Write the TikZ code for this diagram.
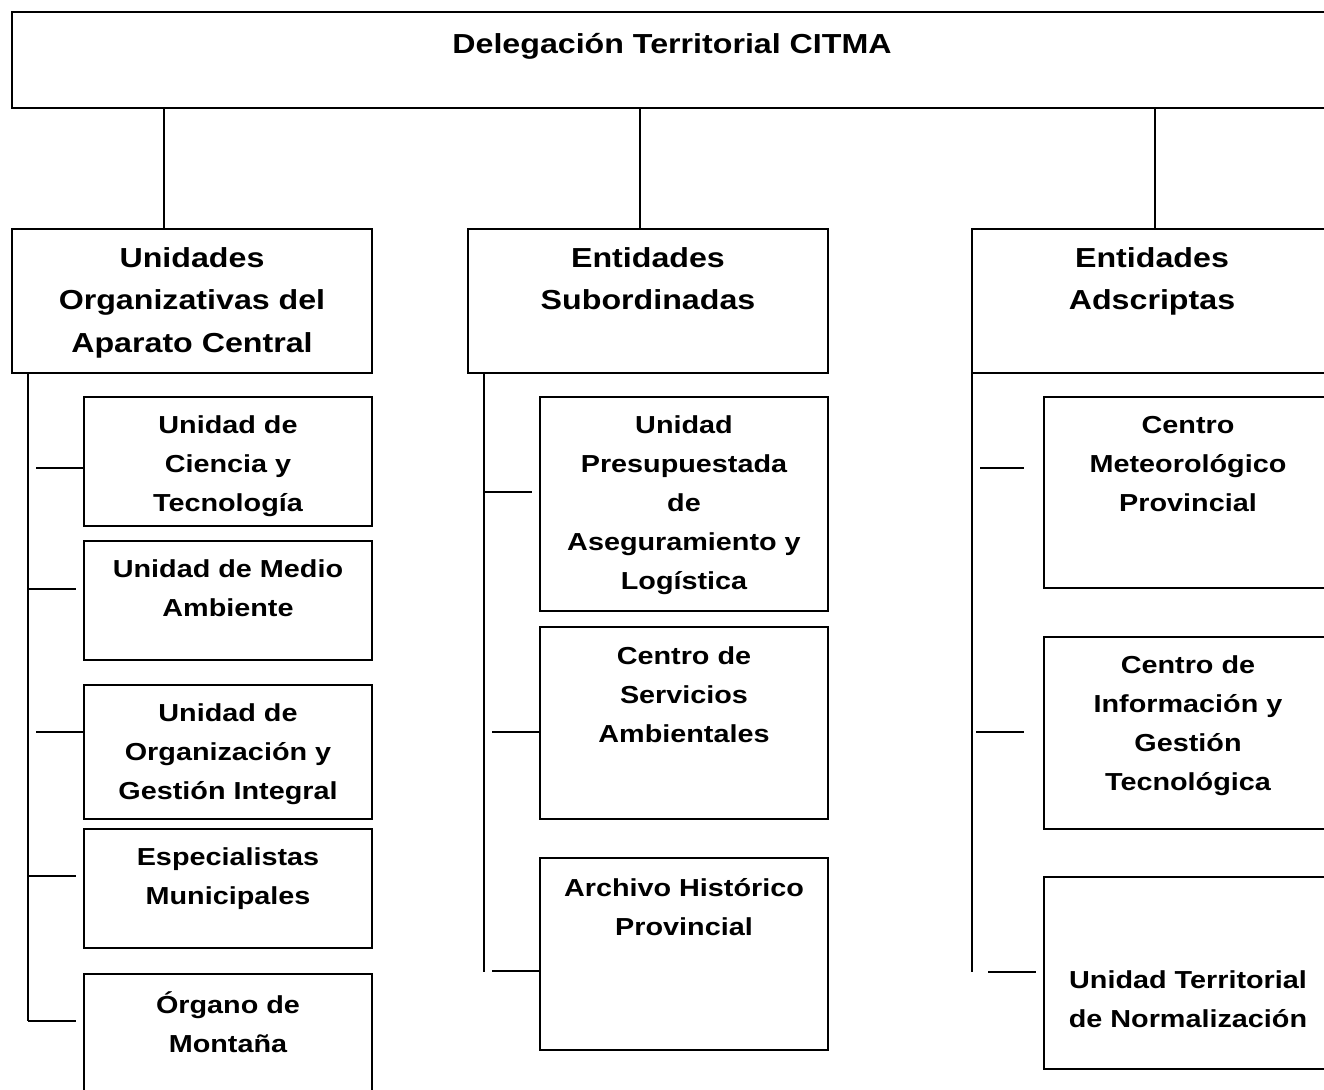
\documentclass[tikz,border=0pt]{standalone}
\usepackage{fontspec}
\setmainfont{Liberation Sans}[FakeStretch=1.17]
\usetikzlibrary{positioning}
\tikzset{
  box/.style={draw, line width=1.1pt, inner sep=0pt, outer sep=0pt, minimum width=144pt},
  lbl/.style={font=\fontsize{12.3}{19.5}\selectfont\bfseries, align=center,
    anchor=north, yshift=#1, inner sep=0pt, execute at begin node=\strut},
  lbl/.default=-9.35pt,
  head/.style={lbl=#1, font=\fontsize{13.75}{21.25}\selectfont\bfseries},
  head/.default=-9pt,
  conn/.style={line width=1pt}
}
\begin{document}
\begin{tikzpicture}[x=0.5pt,y=-0.5pt]
    \useasboundingbox (0,0) rectangle (1324,1090);
    \clip (0,0) rectangle (1324,1090);
    % head office
    \node[box, anchor=north west, minimum width=660pt, minimum height=48pt,
      label={[head=-5.8pt]north:{Delegación Territorial CITMA}}] (citma) at (12,12) {};
    % second level
    \node[box, anchor=north west, minimum width=180pt, minimum height=72pt,
      label={[head]north:{Unidades\\Organizativas del\\Aparato Central}}] (unidades) at (12,229) {};
    \node[box, right = 48pt of unidades, minimum width=180pt, minimum height=72pt,
      label={[head]north:{Entidades\\Subordinadas}}] (subord) {};
    \node[box, right = 72pt of subord, minimum width=180pt, minimum height=72pt,
      label={[head]north:{Entidades\\Adscriptas}}] (adscr) {};
    % units of the central apparatus
    \node[box, anchor=north west, minimum height=64.5pt,
      label={[lbl]north:{Unidad de\\Ciencia y\\Tecnología}}] (cyt) at (84,397) {};
    \node[box, below = 7.5pt of cyt, minimum height=59.5pt,
      label={[lbl]north:{Unidad de Medio\\Ambiente}}] (medio) {};
    \node[box, below = 12.5pt of medio, minimum height=67pt,
      label={[lbl]north:{Unidad de\\Organización y\\Gestión Integral}}] (ogi) {};
    \node[box, below = 5pt of ogi, minimum height=59.5pt,
      label={[lbl]north:{Especialistas\\Municipales}}] (espec) {};
    \node[box, below = 13pt of espec, minimum height=68pt,
      label={[lbl=-8.5pt]north:{Órgano de\\Montaña}}] (montana) {};
    % subordinated entities
    \node[box, anchor=north west, minimum height=107pt,
      label={[lbl]north:{Unidad\\Presupuestada\\de\\Aseguramiento y\\Logística}}] (upal) at (540,397) {};
    \node[box, below = 8pt of upal, minimum height=96pt,
      label={[lbl=-9.85pt]north:{Centro de\\Servicios\\Ambientales}}] (csa) {};
    \node[box, below = 19.5pt of csa, minimum height=96pt,
      label={[lbl=-9.85pt]north:{Archivo Histórico\\Provincial}}] (archivo) {};
    % attached entities
    \node[box, anchor=north west, minimum height=95.5pt,
      label={[lbl]north:{Centro\\Meteorológico\\Provincial}}] (meteo) at (1044,397) {};
    \node[box, below = 24.5pt of meteo, minimum height=96pt,
      label={[lbl]north:{Centro de\\Información y\\Gestión\\Tecnológica}}] (cigt) {};
    \node[box, below = 24pt of cigt, minimum height=96pt,
      label={[lbl=-46.65pt]north:{Unidad Territorial\\de Normalización}}] (utn) {};
    % links to the head office
    \draw[conn] ([xshift=-14pt]unidades.north) -- ([xshift=-14pt]unidades.north |- citma.south);
    \draw[conn] ([xshift=-4pt]subord.north) -- ([xshift=-4pt]subord.north |- citma.south);
    \draw[conn] ([xshift=1.5pt]adscr.north) -- ([xshift=1.5pt]adscr.north |- citma.south);
    % spines
    \draw[conn] ([xshift=8pt]unidades.south west) -- ++(0,648);
    \draw[conn] ([xshift=8pt]subord.south west) -- ++(0,599);
    \draw[conn] (adscr.south west) -- ++(0,599);
    % branches
    \draw[conn] ([shift={(-48,6.5)}]cyt.west) -- ++(48,0);
    \draw[conn] ([shift={(-56,-11.5)}]medio.west) -- ++(48,0);
    \draw[conn] ([shift={(-48,-20)}]ogi.west) -- ++(48,0);
    \draw[conn] ([shift={(-56,-12.5)}]espec.west) -- ++(48,0);
    \draw[conn] ([shift={(-56,-21)}]montana.west) -- ++(48,0);
    \draw[conn] ([shift={(-56,-12)}]upal.west) -- ++(48,0);
    \draw[conn] ([shift={(-48,9)}]csa.west) -- ++(48,0);
    \draw[conn] ([shift={(-48,17)}]archivo.west) -- ++(48,0);
    \draw[conn] ([shift={(-64,-24.5)}]meteo.west) -- ++(44,0);
    \draw[conn] ([shift={(-68,-1)}]cigt.west) -- ++(48,0);
    \draw[conn] ([shift={(-56,-1)}]utn.west) -- ++(48,0);
\end{tikzpicture}
\end{document}
